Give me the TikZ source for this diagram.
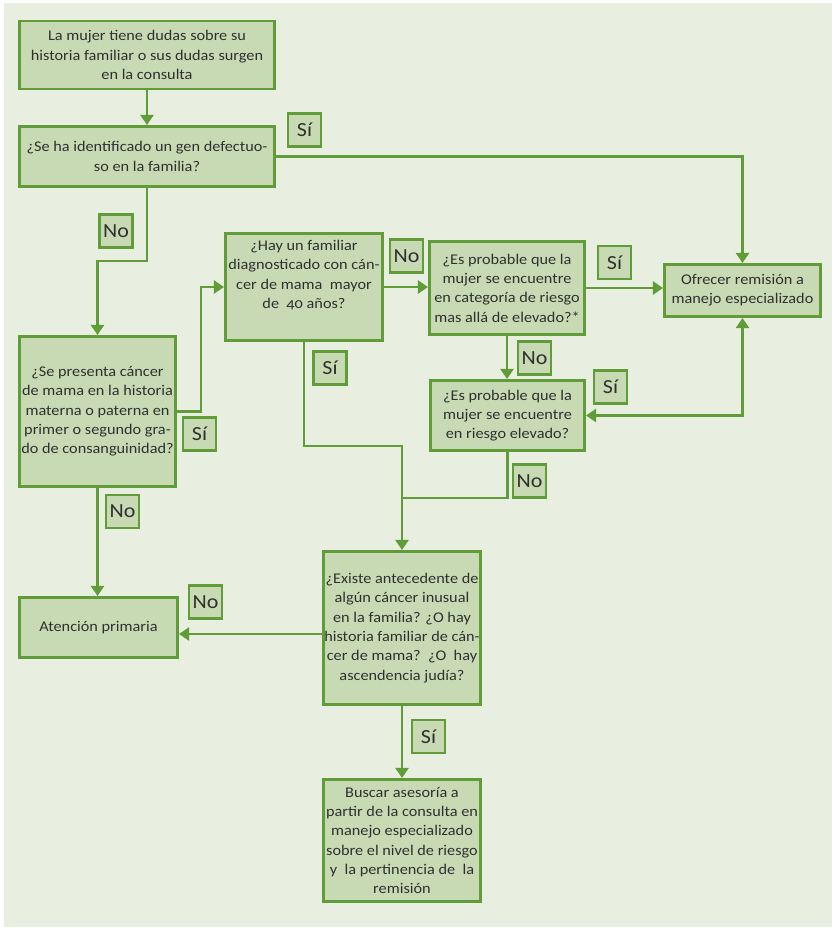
\documentclass[tikz,border=0pt]{standalone}
\usepackage{fontspec}
\setmainfont{Carlito}[FakeStretch=1.1, Numbers=OldStyle]
\usetikzlibrary{arrows.meta,calc}
\definecolor{bg}{RGB}{232,239,224}
\definecolor{bfill}{RGB}{200,218,180}
\definecolor{bdraw}{RGB}{96,156,56}
\definecolor{txt}{RGB}{48,48,48}
\begin{document}
\begin{tikzpicture}[x=1pt,y=-1pt,
 box/.style={draw=bdraw, fill=bfill, line width=2.6pt, inner sep=0pt, align=center, text=txt, font=\fontsize{14.8}{19.3}\selectfont},
 lab/.style={draw=bdraw, fill=bfill, line width=2.4pt, minimum width=33pt, minimum height=33pt, inner sep=0pt, text=txt, font=\fontsize{20}{22}\selectfont},
 conn/.style={draw=bdraw, line width=2.4pt},
 arr/.style={conn, -{Triangle[length=10pt,width=13pt]}},
 darr/.style={conn, {Triangle[length=10pt,width=13pt]}-{Triangle[length=10pt,width=13pt]}},
]
\useasboundingbox (0,0) rectangle (836,930);
\fill[white] (0,0) rectangle (836,930);
\fill[bg] (4,3) rectangle (832,927);

\node[box, minimum width=255.5pt, minimum height=68pt] (b1) at (147,55) {La mujer tiene dudas sobre su\\historia familiar o sus dudas surgen\\en la consulta};
\node[box, minimum width=255.5pt, minimum height=60.5pt] (b2) at (147,156.5) {¿Se ha identificado un gen defectuo-\\so en la familia?};
\node[box, minimum width=156.5pt, minimum height=150.5pt] (b3) at (97.5,411.5) {¿Se presenta cáncer\\de mama en la historia\\materna o paterna en\\primer o segundo gra-\\do de consanguinidad?};
\node[box, minimum width=157.5pt, minimum height=107.5pt] (b4) at (304,287) {¿Hay un familiar\\diagnosticado con cán-\\cer de mama\ \ mayor\\de\ \ 40 años?\\\strut};
\node[box, minimum width=155.5pt, minimum height=93.5pt] (b5) at (507,288) {¿Es probable que la\\mujer se encuentre\\en categoría de riesgo\\mas allá de elevado?*};
\node[box, minimum width=156.5pt, minimum height=52.5pt] (b6) at (742.5,290.5) {Ofrecer remisión a\\manejo especializado};
\node[box, minimum width=154.5pt, minimum height=70.5pt] (b7) at (507.5,415.5) {¿Es probable que la\\mujer se encuentre\\en riesgo elevado?};
\node[box, minimum width=157.5pt, minimum height=153.5pt] (b8) at (402,628) {¿Existe antecedente de\\algún cáncer inusual\\en la familia? ¿O hay\\historia familiar de cán-\\cer de mama?\ \ ¿O\ \ hay\\ascendencia judía?};
\node[box, minimum width=158.5pt, minimum height=60.5pt] (b9) at (98.5,627.5) {Atención primaria};
\node[box, minimum width=157.5pt, minimum height=122.5pt] (b10) at (402,840.5) {Buscar asesoría a\\partir de la consulta en\\manejo especializado\\sobre el nivel de riesgo\\y\ \ la pertinencia de\ \ la\\remisión};

\draw[arr] (b1.south) -- (b2.north);
\draw[arr] (b2.east) -| (b6.north);
\draw[arr] (b2.south) |- ($(b3.north)+(0,-74)$) -- (b3.north);
\draw[arr] (b3.east) -- ++(24,0) |- (b4.west);
\draw[arr] (b4.east) -- (b4.east -| b5.west);
\draw[arr] (b5.east) -- (b5.east -| b6.west);
\draw[arr] (b5.south) -- (b5.south |- b7.north);
\draw[darr] (b7.east) -| (b6.south);
\draw[arr] (b4.south) |- ($(b8.north)+(0,-104)$) -- (b8.north);
\draw[conn] (b7.south) |- ($(b8.north)+(0,-52)$);
\draw[arr] (b3.south) -- (b3.south |- b9.north);
\draw[arr] ([yshift=-6pt]b8.west) -- ([yshift=-6pt]b8.west -| b9.east);
\draw[arr] (b8.south) -- (b10.north);

\node[lab] (l1) at (304.5,130) {Sí};
\node[lab] (l2) at (116,231) {No};
\node[lab] (l3) at (199.5,434) {Sí};
\node[lab] (l4) at (406.5,256) {No};
\node[lab] (l5) at (330,368) {Sí};
\node[lab] (l6) at (614.5,262.5) {Sí};
\node[lab] (l7) at (534.5,358) {No};
\node[lab] (l8) at (610.5,387) {Sí};
\node[lab] (l9) at (529.5,481) {No};
\node[lab] (l10) at (122.5,511.5) {No};
\node[lab] (l11) at (205.5,602) {No};
\node[lab] (l12) at (428.5,736.5) {Sí};
\end{tikzpicture}
\end{document}
